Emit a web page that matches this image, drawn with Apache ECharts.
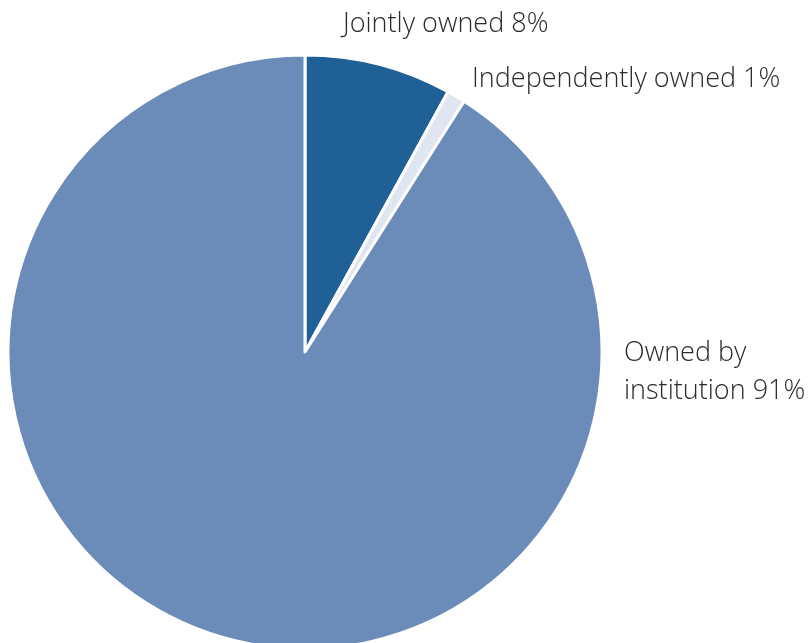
<!DOCTYPE html>
<html>
<head>
<meta charset="utf-8">
<script src="https://cdn.jsdelivr.net/npm/echarts@6/dist/echarts.min.js"></script>
<style>
  html, body { margin: 0; padding: 0; background: #fff; }
  #main { width: 810px; height: 643px; }
</style>
</head>
<body>
<div id="main"></div>
<script>
var names = ['Jointly owned', 'Independently owned', 'Owned by\ninstitution'];
var values = [8, 1, 91];
var colors = ['#1f6096', '#dfe5f1', '#6b8cb8'];
// label anchor points (left edge, vertical middle)
var labelPos = [[343, 24], [472, 79], [624, 372]];

var chart = echarts.init(document.getElementById('main'));

var data = [];
for (var i = 0; i < names.length; i++) {
  data.push({ name: names[i], value: values[i], itemStyle: { color: colors[i] } });
}

chart.setOption({
  animation: false,
  series: [{
    type: 'pie',
    center: [305, 352],
    radius: [0, 297],
    startAngle: 90,
    clockwise: true,
    itemStyle: { borderColor: '#fff', borderWidth: 3 },
    label: {
      show: true,
      position: 'outside',
      formatter: '{b} {c}%',
      overflow: 'none',
      fontFamily: '"Open Sans", sans-serif',
      fontWeight: 300,
      fontSize: 27,
      lineHeight: 38,
      color: '#2e2a28'
    },
    labelLine: { show: false },
    labelLayout: function (params) {
      var p = labelPos[params.dataIndex];
      return { x: p[0], y: p[1], align: 'left', verticalAlign: 'middle' };
    },
    emphasis: { disabled: true },
    data: data
  }]
});
</script>
</body>
</html>
